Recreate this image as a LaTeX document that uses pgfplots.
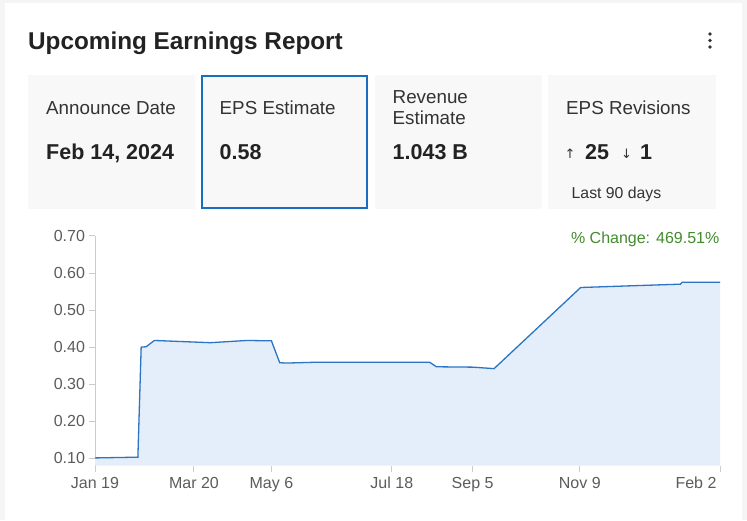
\documentclass[border=0pt]{standalone}
\usepackage{pgfplots}
\pgfplotsset{compat=1.18}
\usepackage{fontspec}
\setmainfont{Liberation Sans}
\newfontfamily\symfont{DejaVu Sans}
\definecolor{titlec}{HTML}{222222}
\definecolor{labc}{HTML}{333333}
\definecolor{tickc}{HTML}{5C5C5C}
\definecolor{cardc}{HTML}{F8F8F8}
\definecolor{outerc}{HTML}{F5F5F5}
\definecolor{bluebd}{HTML}{1A6EC0}
\definecolor{linec}{HTML}{2B75C2}
\definecolor{fillc}{HTML}{E3EEFA}
\definecolor{greenc}{HTML}{438C2E}
\definecolor{axc}{HTML}{CCCCCC}
\begin{document}
\begin{tikzpicture}[x=1pt,y=1pt]
\path[use as bounding box] (0,0) rectangle (747,520);
\fill[outerc] (0,0) rectangle (747,520);
\fill[white] (5,0) rectangle (742,517);
% title
\node[anchor=base west,inner sep=0,text=titlec,font=\fontsize{24.3}{28}\selectfont\bfseries] at (28,470.5) {Upcoming Earnings Report};
\fill[labc] (710,486) circle (1.8) (710,479.5) circle (1.8) (710,473) circle (1.8);
% cards
\fill[cardc] (28,311) rectangle (195,445);
\fill[cardc] (201,311) rectangle (368,445);
\draw[bluebd,line width=2pt] (202,312) rectangle (367,444);
\fill[cardc] (375,311) rectangle (542,445);
\fill[cardc] (548,311) rectangle (716,445);
% card texts
\begin{scope}[every node/.style={anchor=base west,inner sep=0}]
\node[text=labc,font=\fontsize{18.8}{20}\selectfont] at (46,405.7) {Announce Date};
\node[text=titlec,font=\fontsize{21.5}{24}\selectfont\bfseries] at (46,360.7) {Feb 14, 2024};
\node[text=labc,font=\fontsize{18.8}{20}\selectfont] at (219.5,405.7) {EPS Estimate};
\node[text=titlec,font=\fontsize{21.5}{24}\selectfont\bfseries] at (219.5,360.7) {0.58};
\node[text=labc,font=\fontsize{18.8}{20}\selectfont] at (392.5,416.6) {Revenue};
\node[text=labc,font=\fontsize{18.8}{20}\selectfont] at (392.5,395.6) {Estimate};
\node[text=titlec,font=\fontsize{21.5}{24}\selectfont\bfseries] at (392.5,360.7) {1.043 B};
\node[text=labc,font=\fontsize{18.8}{20}\selectfont] at (566,405.7) {EPS Revisions};
\node[text=labc,font=\fontsize{13}{14}\selectfont\symfont] at (564.5,361) {↑};
\node[text=titlec,font=\fontsize{21.5}{24}\selectfont\bfseries] at (585,360.7) {25};
\node[text=labc,font=\fontsize{13}{14}\selectfont\symfont] at (621,361) {↓};
\node[text=titlec,font=\fontsize{21.5}{24}\selectfont\bfseries] at (640,360.7) {1};
\node[text=labc,font=\fontsize{15.8}{18}\selectfont] at (571.5,321.7) {Last 90 days};
\end{scope}
\node[anchor=base east,inner sep=0,text=greenc,font=\fontsize{16}{18}\selectfont] at (719.5,276.7) {\% Change: 469.51\%};
\begin{axis}[at={(95pt,54.3pt)},anchor=south west,scale only axis,
  width=625pt,height=229.7pt,
  xmin=0,xmax=379,ymin=0.08,ymax=0.70,
  axis x line=bottom,axis y line=left,
  axis line style={-},
  x axis line style={draw=none},
  y axis line style={draw=axc,line width=1pt},
  tick align=outside,major tick length=6.5pt,
  tick style={draw=axc,line width=1pt},
  xtick={0,60,107,180,229,294},
  xticklabels={Jan 19,Mar 20,May 6,Jul 18,Sep 5,Nov 9},
  xticklabel style={yshift=-1.5pt},
  extra x ticks={379},extra x tick labels={Feb 2},
  extra x tick style={xticklabel style={anchor=north east,xshift=0pt}},
  ytick={0.1,0.2,0.3,0.4,0.5,0.6,0.7},
  yticklabel style={/pgf/number format/fixed,/pgf/number format/fixed zerofill,/pgf/number format/precision=2},
  /pgf/number format/assume math mode=true,
  ticklabel style={font=\fontsize{16}{18}\selectfont,text=tickc},
  clip=false]
\addplot[draw=none,fill=fillc] coordinates {
(0,0.101) (26,0.103) (28,0.400) (31,0.401) (36,0.418) (70,0.412) (92,0.418) (107,0.417) (112,0.358) (116,0.357) (132,0.359) (203,0.359) (207,0.347) (229,0.346) (242,0.342) (294.5,0.561) (355,0.570) (356,0.575) (379,0.575)
} \closedcycle;
\addplot[linec,line width=1.3pt,mark=none] coordinates {
(0,0.101) (26,0.103) (28,0.400) (31,0.401) (36,0.418) (70,0.412) (92,0.418) (107,0.417) (112,0.358) (116,0.357) (132,0.359) (203,0.359) (207,0.347) (229,0.346) (242,0.342) (294.5,0.561) (355,0.570) (356,0.575) (379,0.575)
};
\end{axis}
\end{tikzpicture}
\end{document}
